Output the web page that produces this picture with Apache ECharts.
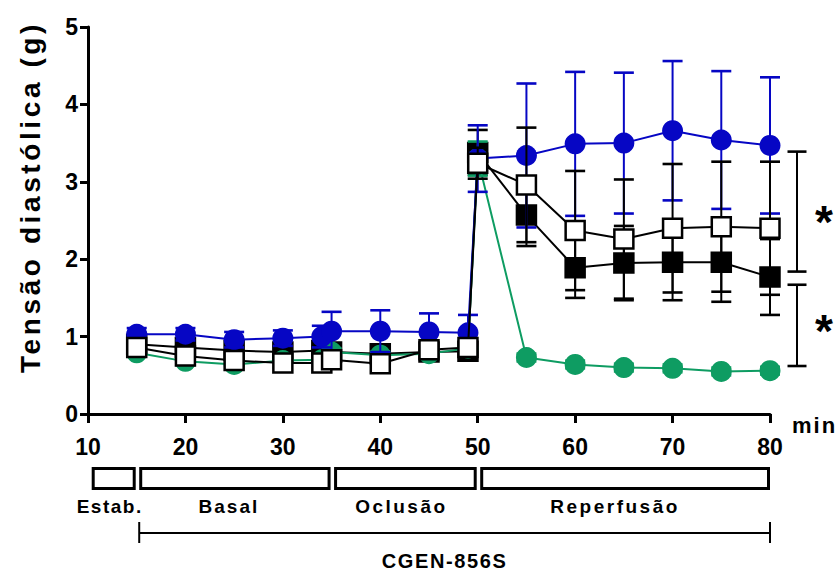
<!DOCTYPE html>
<html>
<head>
<meta charset="utf-8">
<title>Tensão diastólica</title>
<script src="https://cdn.jsdelivr.net/npm/echarts@6/dist/echarts.min.js"></script>
<style>
  html, body { margin: 0; padding: 0; background: #fff; }
  #chart { width: 840px; height: 571px; }
</style>
</head>
<body>
<div id="chart"></div>
<script>
// Sampling times (min)
const times = [15, 20, 25, 30, 34, 35, 40, 45, 49, 50, 55, 60, 65, 70, 75, 80];

// Group means and SEM (g)
const blueMean  = [1.03, 1.03, 0.96, 0.98, 1.00, 1.07, 1.07, 1.06, 1.05, 3.30, 3.34, 3.49, 3.50, 3.66, 3.54, 3.47];
const blueErr   = [0.08, 0.08, 0.10, 0.10, 0.14, 0.25, 0.27, 0.24, 0.23, 0.43, 0.93, 0.93, 0.91, 0.90, 0.89, 0.88];
const blackMean = [0.90, 0.86, 0.82, 0.80, 0.82, 0.80, 0.78, 0.80, 0.81, 3.38, 2.57, 1.89, 1.95, 1.96, 1.96, 1.77];
const blackErr  = [0.06, 0.06, 0.06, 0.06, 0.06, 0.06, 0.06, 0.06, 0.06, 0.29, 0.40, 0.39, 0.48, 0.49, 0.51, 0.49];
const whiteMean = [0.86, 0.75, 0.69, 0.66, 0.66, 0.70, 0.65, 0.83, 0.86, 3.24, 2.96, 2.37, 2.26, 2.40, 2.42, 2.40];
const whiteErr  = [0.06, 0.06, 0.06, 0.06, 0.06, 0.06, 0.06, 0.06, 0.06, 0.20, 0.74, 0.77, 0.77, 0.83, 0.84, 0.86];
const greenMean = [0.79, 0.68, 0.64, 0.69, 0.70, 0.80, 0.76, 0.78, 0.85, 3.30, 0.73, 0.64, 0.60, 0.59, 0.55, 0.56];
const greenErr  = [0.05, 0.05, 0.05, 0.05, 0.05, 0.05, 0.05, 0.05, 0.05, 0.22, 0.05, 0.05, 0.05, 0.05, 0.05, 0.05];

// Axis ticks
const xTicks = [10, 20, 30, 40, 50, 60, 70, 80];
const yTicks = [0, 1, 2, 3, 4, 5];

// Protocol phases [start, end, label]
const phases = [
  [10, 15, 'Estab.'],
  [15, 35, 'Basal'],
  [35, 50, 'Oclusão'],
  [50, 80, 'Reperfusão']
];
// Drug exposure period
const drugPeriod = [[15, 80, 'CGEN-856S']];

// Significance brackets at 80 min [upper, lower]
const brackets = [[3.39, 1.84], [1.67, 0.62]];

const FONT = "'Liberation Sans', Arial, sans-serif";
const BLUE = '#0606c4';
const GREEN = '#0e9c62';
const BLACK = '#000000';

// horizontal nudge of each phase caption (px)
const phaseLabelNudge = [-4, -6, -4, -10];

function pairs(mean) { return times.map((t, i) => [t, mean[i]]); }
function triples(mean, err) { return times.map((t, i) => [t, mean[i], err[i]]); }

function errorBars(name, mean, err, color, z) {
  return {
    type: 'custom', name: name, z: z, silent: true,
    data: triples(mean, err),
    encode: { x: 0, y: 1 },
    renderItem: function (params, api) {
      const x = api.value(0), m = api.value(1), s = api.value(2);
      const top = api.coord([x, m + s]);
      const bot = api.coord([x, m - s]);
      const hw = 10;
      return {
        type: 'group',
        children: [
          { type: 'line', shape: { x1: top[0], y1: top[1], x2: bot[0], y2: bot[1] }, style: { stroke: color, lineWidth: 2 } },
          { type: 'line', shape: { x1: top[0] - hw, y1: top[1], x2: top[0] + hw, y2: top[1] }, style: { stroke: color, lineWidth: 2.6 } },
          { type: 'line', shape: { x1: bot[0] - hw, y1: bot[1], x2: bot[0] + hw, y2: bot[1] }, style: { stroke: color, lineWidth: 2.6 } }
        ]
      };
    }
  };
}

function meanLine(name, mean, opts, z) {
  return {
    type: 'line', name: name, z: z, silent: true,
    data: pairs(mean),
    symbol: opts.symbol,
    symbolSize: opts.size,
    lineStyle: { color: opts.line, width: 2 },
    itemStyle: { color: opts.fill, borderColor: opts.border || opts.fill, borderWidth: opts.borderWidth || 0 }
  };
}

const chart = echarts.init(document.getElementById('chart'), null, { renderer: 'svg' });

const option = {
  animation: false,
  backgroundColor: '#ffffff',
  grid: { left: 88, right: 70, top: 27, bottom: 157, containLabel: false },
  xAxis: {
    type: 'value', min: xTicks[0], max: xTicks[xTicks.length - 1], interval: 10,
    name: 'min', nameLocation: 'end', nameGap: 22,
    nameTextStyle: { fontFamily: FONT, fontWeight: 'bold', fontSize: 22, color: '#000', verticalAlign: 'top', padding: [0, 0, 0, 0] },
    axisLine: { onZero: false, lineStyle: { color: '#000', width: 3 } },
    axisTick: { show: true, inside: false, length: 9, lineStyle: { color: '#000', width: 3 } },
    axisLabel: { margin: 21, fontFamily: FONT, fontWeight: 'bold', fontSize: 23, color: '#000' },
    splitLine: { show: false }
  },
  yAxis: {
    type: 'value', min: yTicks[0], max: yTicks[yTicks.length - 1], interval: 1,
    axisLine: { show: true, onZero: false, lineStyle: { color: '#000', width: 3 } },
    axisTick: { show: true, inside: false, length: 8, lineStyle: { color: '#000', width: 3 } },
    axisLabel: { margin: 10, fontFamily: FONT, fontWeight: 'bold', fontSize: 23, color: '#000' },
    splitLine: { show: false }
  },
  graphic: [
    {
      type: 'text', x: 30, y: 197, rotation: Math.PI / 2,
      style: { text: 'Tensão diastólica (g)', font: 'bold 28px ' + FONT, fill: '#000', align: 'center', verticalAlign: 'middle' }
    }
  ],
  series: [
    // stacking order: filled squares, green, blue, open squares on top
    errorBars('Preto SEM', blackMean, blackErr, BLACK, 2),
    meanLine('Preto', blackMean, { symbol: 'rect', size: 19, line: BLACK, fill: BLACK, border: BLACK, borderWidth: 2.5 }, 3),
    errorBars('Verde SEM', greenMean, greenErr, GREEN, 4),
    meanLine('Verde', greenMean, { symbol: 'circle', size: 21, line: GREEN, fill: GREEN }, 5),
    errorBars('Azul SEM', blueMean, blueErr, BLUE, 6),
    meanLine('Azul', blueMean, { symbol: 'circle', size: 21, line: BLUE, fill: BLUE }, 7),
    errorBars('Branco SEM', whiteMean, whiteErr, BLACK, 8),
    meanLine('Branco', whiteMean, { symbol: 'rect', size: 19, line: BLACK, fill: '#ffffff', border: BLACK, borderWidth: 2.5 }, 9),
    {
      // protocol phase boxes under the time axis
      type: 'custom', name: 'Fases', z: 10, silent: true, clip: false,
      data: phases.map(p => [p[0], p[1]]),
      encode: { x: [0, 1] },
      renderItem: function (params, api) {
        const a = api.coord([api.value(0), 0]);
        const b = api.coord([api.value(1), 0]);
        const i = params.dataIndex;
        const label = phases[i][2];
        const left = a[0] + (i === 0 ? 3.7 : 2.5);
        const right = b[0] - (i === phases.length - 1 ? 0 : 1);
        const y0 = a[1] + 53;
        return {
          type: 'group',
          children: [
            { type: 'rect', shape: { x: left + 1.5, y: y0 + 1.5, width: right - left - 3, height: 20 }, style: { fill: '#fff', stroke: '#000', lineWidth: 3 } },
            { type: 'text', style: { text: label, x: (left + right) / 2 + phaseLabelNudge[i], y: a[1] + 92, align: 'center', verticalAlign: 'middle', font: 'bold 19px ' + FONT, fill: '#000' } }
          ]
        };
      }
    },
    {
      // drug exposure bar
      type: 'custom', name: 'Droga', z: 10, silent: true, clip: false,
      data: drugPeriod.map(p => [p[0], p[1]]),
      encode: { x: [0, 1] },
      renderItem: function (params, api) {
        const a = api.coord([api.value(0), 0]);
        const b = api.coord([api.value(1), 0]);
        const x1 = a[0] + 2.5, x2 = b[0];
        const y = a[1] + 119;
        return {
          type: 'group',
          children: [
            { type: 'line', shape: { x1: x1, y1: y, x2: x2, y2: y }, style: { stroke: '#000', lineWidth: 2 } },
            { type: 'line', shape: { x1: x1, y1: y - 11, x2: x1, y2: y + 10 }, style: { stroke: '#000', lineWidth: 2 } },
            { type: 'line', shape: { x1: x2, y1: y - 11, x2: x2, y2: y + 10 }, style: { stroke: '#000', lineWidth: 2 } },
            { type: 'text', style: { text: drugPeriod[params.dataIndex][2], x: (x1 + x2) / 2 - 10, y: a[1] + 147, align: 'center', verticalAlign: 'middle', font: 'bold 20px ' + FONT, fill: '#000' } }
          ]
        };
      }
    },
    {
      // significance brackets with asterisks
      type: 'custom', name: 'Significância', z: 10, silent: true, clip: false,
      data: brackets.map(b => [xTicks[xTicks.length - 1], b[0], b[1]]),
      encode: { x: 0, y: [1, 2] },
      renderItem: function (params, api) {
        const top = api.coord([api.value(0), api.value(1)]);
        const bot = api.coord([api.value(0), api.value(2)]);
        const x = top[0] + 27;
        const hw = 9.5;
        return {
          type: 'group',
          children: [
            { type: 'line', shape: { x1: x, y1: top[1], x2: x, y2: bot[1] }, style: { stroke: '#000', lineWidth: 2 } },
            { type: 'line', shape: { x1: x - hw, y1: top[1], x2: x + hw, y2: top[1] }, style: { stroke: '#000', lineWidth: 2.6 } },
            { type: 'line', shape: { x1: x - hw, y1: bot[1], x2: x + hw, y2: bot[1] }, style: { stroke: '#000', lineWidth: 2.6 } },
            { type: 'text', style: { text: '*', x: x + 27, y: (top[1] + bot[1]) / 2 + (params.dataIndex === 0 ? 10 : 6), align: 'center', verticalAlign: 'middle', font: 'bold 46px ' + FONT, fill: '#000' } }
          ]
        };
      }
    }
  ]
};

chart.setOption(option);

// Wider tracking for the bold annotation labels
const tracking = {
  'Tensão diastólica (g)': '3.6px',
  'Estab.': '1.5px',
  'Basal': '2px',
  'Oclusão': '2.5px',
  'Reperfusão': '2.5px',
  'CGEN-856S': '1.6px',
  'min': '2px'
};
function applyTracking() {
  document.querySelectorAll('#chart text').forEach(function (t) {
    const s = tracking[t.textContent];
    if (s) t.style.letterSpacing = s;
  });
}
applyTracking();
chart.on('finished', applyTracking);
</script>
</body>
</html>
